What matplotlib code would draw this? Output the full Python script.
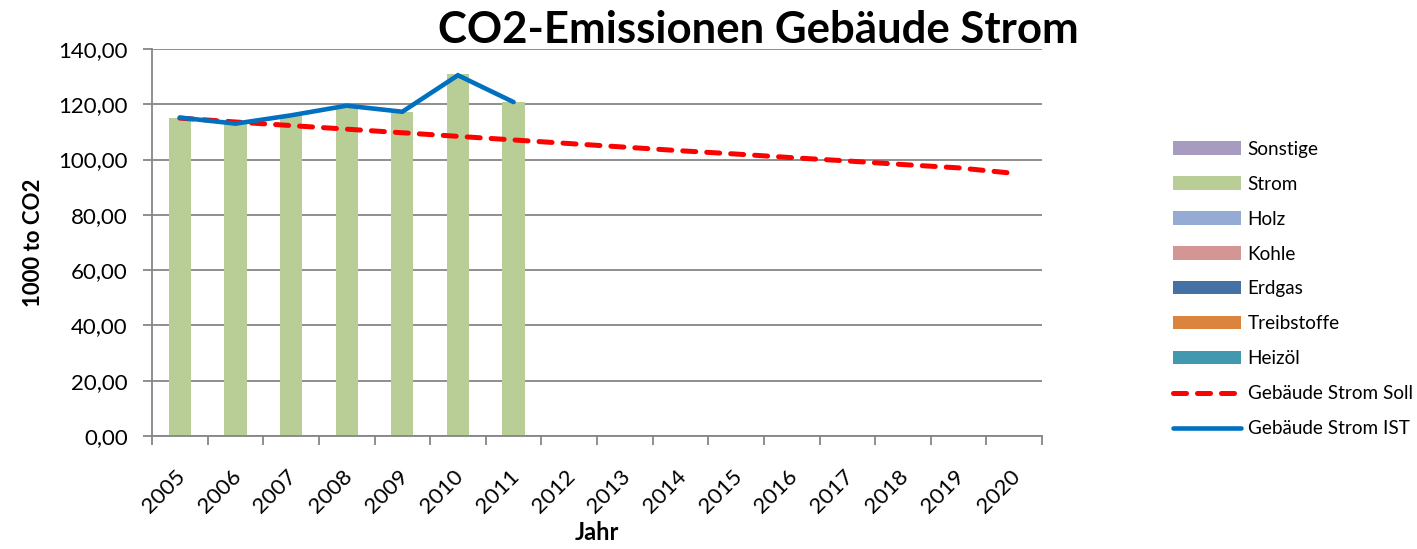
import matplotlib
matplotlib.use("Agg")
import matplotlib.pyplot as plt
import numpy as np
from matplotlib.patches import Patch
from matplotlib.lines import Line2D

plt.rcParams['font.family'] = ['Lato', 'DejaVu Sans']

years = [str(y) for y in range(2005, 2021)]
strom = [115.0, 113.2, 115.8, 118.6, 117.3, 130.8, 120.8] + [0] * 9
sonstige = [0] * 16
holz = [0] * 16
kohle = [0] * 16
erdgas = [0] * 16
treibstoffe = [0] * 16
heizoel = [0] * 16
soll = [115.0, 113.6, 112.3, 111.0, 109.7, 108.4, 107.1, 105.8, 104.5,
        103.2, 102.0, 100.7, 99.5, 98.2, 97.0, 95.0]
ist = [115.2, 113.0, 116.0, 119.5, 117.3, 130.5, 120.8]

W, H = 1417, 549
fig = plt.figure(figsize=(W / 100, H / 100), dpi=100)
ax = fig.add_axes([152 / W, (H - 436) / H, 890 / W, 387 / H])

x = np.arange(len(years))
colors = {
    'Heizöl': '#4198AF', 'Treibstoffe': '#DB843D', 'Erdgas': '#4671A5',
    'Kohle': '#D49594', 'Holz': '#95ABD3', 'Strom': '#B9CE97', 'Sonstige': '#A89BC0'}
stack = [('Heizöl', heizoel), ('Treibstoffe', treibstoffe), ('Erdgas', erdgas),
         ('Kohle', kohle), ('Holz', holz), ('Strom', strom), ('Sonstige', sonstige)]
bottom = np.zeros(len(years))
handles = {}
for name, vals in stack:
    v = np.array(vals, dtype=float)
    ax.bar(x, v, width=0.4, bottom=bottom, color=colors[name], linewidth=0, zorder=2)
    handles[name] = Patch(facecolor=colors[name], edgecolor='none')
    bottom += v

l_soll, = ax.plot(x, soll, color='#FF0000', lw=3.6, ls=(0, (2.6, 2.2)),
                  dash_capstyle='round', zorder=3)
l_ist, = ax.plot(x[:len(ist)], ist, color='#0070C0', lw=3.3, zorder=4,
                 solid_capstyle='round', solid_joinstyle='miter')

ax.set_xlim(-0.5, len(years) - 0.5)
ax.set_ylim(0, 140)
ax.set_yticks(np.arange(0, 141, 20))
ax.set_yticklabels([f"{v:.2f}".replace('.', ',') for v in np.arange(0, 141, 20)], fontsize=16)
ax.set_xticks(x - 0.08)
ax.set_xticklabels(years, rotation=45, ha='right', va='top', rotation_mode='anchor', fontsize=16)
ax.set_xticks(np.arange(-0.5, len(years), 1), minor=True)
ax.tick_params(axis='x', which='major', length=0, pad=22)
ax.tick_params(axis='x', which='minor', length=6.5, width=1.3, color='#868686', direction='out')
ax.tick_params(axis='y', length=6.5, width=1.3, color='#868686', direction='out', pad=11)

ax.grid(axis='y', color='#868686', lw=1.3, zorder=0)
ax.set_axisbelow(True)
for s in ['top', 'right']:
    ax.spines[s].set_visible(False)
for s in ['left', 'bottom']:
    ax.spines[s].set_color('#868686')
    ax.spines[s].set_linewidth(1.3)

ax.set_ylabel('1000 to CO2', fontsize=16, fontweight='bold', labelpad=10)
ax.set_xlabel('Jahr', fontsize=17, fontweight='bold', labelpad=3)
fig.text(758 / W, 1 - 30 / H, 'CO2-Emissionen Gebäude Strom', fontsize=31.5,
         fontweight='bold', ha='center', va='center')

leg_handles = [handles['Sonstige'], handles['Strom'], handles['Holz'], handles['Kohle'],
               handles['Erdgas'], handles['Treibstoffe'], handles['Heizöl'], l_soll, l_ist]
leg_labels = ['Sonstige', 'Strom', 'Holz', 'Kohle', 'Erdgas', 'Treibstoffe', 'Heizöl',
              'Gebäude Strom Soll', 'Gebäude Strom IST']
fig.legend(leg_handles, leg_labels, loc='center left', bbox_to_anchor=(1156 / W, 1 - 289 / H),
           frameon=False, fontsize=13.6, handlelength=3.6, handletextpad=0.35,
           labelspacing=0.95)

fig.savefig('out.png', dpi=100)
